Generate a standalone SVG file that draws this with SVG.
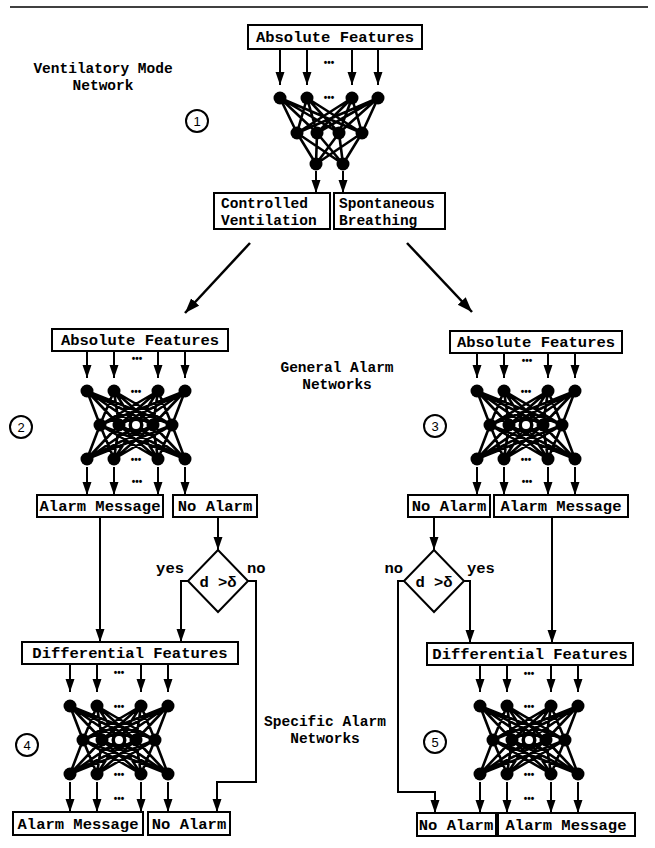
<svg xmlns="http://www.w3.org/2000/svg" xmlns:xlink="http://www.w3.org/1999/xlink" width="655" height="848" viewBox="0 0 655 848">
<style>
.lbl{font-family:"Liberation Mono","DejaVu Sans Mono",monospace;font-size:15.5px;font-weight:bold;fill:#000}
.ml{font-family:"Liberation Mono","DejaVu Sans Mono",monospace;font-size:14.5px;font-weight:bold;fill:#000}
.dots{font-family:"Liberation Sans",sans-serif;font-size:10px;font-weight:bold;fill:#000}
.num{font-family:"Liberation Sans",sans-serif;font-size:13px;fill:#000}
.box{fill:#fff;stroke:#000;stroke-width:2}
.arr{fill:none;stroke:#000;stroke-width:2;marker-end:url(#ah)}
.big{fill:none;stroke:#000;stroke-width:2.5;marker-end:url(#ahb)}
.edge{fill:none;stroke:#000;stroke-width:2.6}
.circ{fill:#fff;stroke:#000;stroke-width:2}
</style>
<defs>
<marker id="ah" markerUnits="userSpaceOnUse" markerWidth="14" markerHeight="10" refX="13" refY="4.5" orient="auto"><path d="M0,0 L13,4.5 L0,9 z" fill="#000"/></marker>
<marker id="ahb" markerUnits="userSpaceOnUse" markerWidth="16" markerHeight="12" refX="15" refY="5.5" orient="auto"><path d="M0,0 L15,5.5 L0,11 z" fill="#000"/></marker>
<g id="net">
<path class="edge" d="M-49,-34L-36,0M-49,-34L-17,0M-49,-34L0,0M-49,-34L17,0M-49,-34L36,0
M-22,-34L-36,0M-22,-34L-17,0M-22,-34L0,0M-22,-34L17,0M-22,-34L36,0
M22,-34L-36,0M22,-34L-17,0M22,-34L0,0M22,-34L17,0M22,-34L36,0
M49,-34L-36,0M49,-34L-17,0M49,-34L0,0M49,-34L17,0M49,-34L36,0
M-49,34L-36,0M-49,34L-17,0M-49,34L0,0M-49,34L17,0M-49,34L36,0
M-22,34L-36,0M-22,34L-17,0M-22,34L0,0M-22,34L17,0M-22,34L36,0
M22,34L-36,0M22,34L-17,0M22,34L0,0M22,34L17,0M22,34L36,0
M49,34L-36,0M49,34L-17,0M49,34L0,0M49,34L17,0M49,34L36,0"/>
<g fill="#000">
<circle cx="-49" cy="-34" r="6.5"/><circle cx="-22" cy="-34" r="6.5"/><circle cx="22" cy="-34" r="6.5"/><circle cx="49" cy="-34" r="6.5"/>
<circle cx="-36" cy="0" r="6.5"/><circle cx="-17" cy="0" r="6.5"/><circle cx="17" cy="0" r="6.5"/><circle cx="36" cy="0" r="6.5"/>
<circle cx="-49" cy="34" r="6.5"/><circle cx="-22" cy="34" r="6.5"/><circle cx="22" cy="34" r="6.5"/><circle cx="49" cy="34" r="6.5"/>
</g>
<circle cx="0" cy="0" r="7.5" fill="#000"/>
<circle cx="0" cy="0" r="4" fill="#fff"/>
<text class="dots" x="0" y="-30.5" text-anchor="middle">•••</text>
<text class="dots" x="0" y="37.5" text-anchor="middle">•••</text>
</g>
</defs>

<line x1="10" y1="7" x2="648" y2="7" stroke="#000" stroke-width="1.5"/>

<text class="ml" x="103" y="73" text-anchor="middle">Ventilatory Mode</text>
<text class="ml" x="103" y="90" text-anchor="middle">Network</text>
<text class="ml" x="337" y="372" text-anchor="middle">General Alarm</text>
<text class="ml" x="337" y="389" text-anchor="middle">Networks</text>
<text class="ml" x="325" y="726" text-anchor="middle">Specific Alarm</text>
<text class="ml" x="325" y="743" text-anchor="middle">Networks</text>

<!-- Network 1 -->
<g id="net1">
<rect class="box" x="248" y="25" width="174" height="24"/>
<text class="lbl" x="335" y="42" text-anchor="middle">Absolute Features</text>
<path class="edge" d="M280,98L297,133M280,98L317,133M280,98L339,133M280,98L362,133
M307,98L297,133M307,98L317,133M307,98L339,133M307,98L362,133
M352,98L297,133M352,98L317,133M352,98L339,133M352,98L362,133
M378,98L297,133M378,98L317,133M378,98L339,133M378,98L362,133
M297,133L316,164M317,133L316,164M339,133L316,164M362,133L316,164
M297,133L343,164M317,133L343,164M339,133L343,164M362,133L343,164"/>
<g fill="#000">
<circle cx="280" cy="98" r="6.5"/><circle cx="307" cy="98" r="6.5"/><circle cx="352" cy="98" r="6.5"/><circle cx="378" cy="98" r="6.5"/>
<circle cx="297" cy="133" r="6.5"/><circle cx="317" cy="133" r="6.5"/><circle cx="339" cy="133" r="6.5"/><circle cx="362" cy="133" r="6.5"/>
<circle cx="316" cy="164" r="6.5"/><circle cx="343" cy="164" r="6.5"/>
</g>
<text class="dots" x="329" y="65.5" text-anchor="middle">•••</text>
<text class="dots" x="329" y="100.5" text-anchor="middle">•••</text>
<circle class="circ" cx="197" cy="121" r="11"/>
<text class="num" x="197" y="126" text-anchor="middle">1</text>
</g>
<g id="cv">
<rect class="box" x="214" y="193" width="116" height="36"/>
<text class="ml" x="221" y="208">Controlled</text>
<text class="ml" x="221" y="225">Ventilation</text>
</g>
<g id="sb">
<rect class="box" x="334" y="193" width="111" height="36"/>
<text class="ml" x="339" y="208">Spontaneous</text>
<text class="ml" x="339" y="225">Breathing</text>
</g>

<!-- Network 2 -->
<g id="net2">
<rect class="box" x="52" y="329" width="176" height="22"/>
<text class="lbl" x="140" y="345" text-anchor="middle">Absolute Features</text>
<use xlink:href="#net" x="136" y="425"/>
<text class="dots" x="137" y="361.5" text-anchor="middle">•••</text>
<text class="dots" x="137" y="484.5" text-anchor="middle">•••</text>
<circle class="circ" cx="21" cy="427" r="11"/>
<text class="num" x="21" y="432" text-anchor="middle">2</text>
</g>
<g id="am2"><rect class="box" x="37" y="495" width="126" height="22"/><text class="lbl" x="100" y="511" text-anchor="middle">Alarm Message</text></g>
<g id="na2"><rect class="box" x="173" y="495" width="84" height="22"/><text class="lbl" x="215" y="511" text-anchor="middle">No Alarm</text></g>

<!-- Network 3 -->
<g id="net3">
<rect class="box" x="450" y="331" width="172" height="22"/>
<text class="lbl" x="536" y="347" text-anchor="middle">Absolute Features</text>
<use xlink:href="#net" x="526" y="425"/>
<text class="dots" x="527" y="363.5" text-anchor="middle">•••</text>
<text class="dots" x="527" y="484.5" text-anchor="middle">•••</text>
<circle class="circ" cx="435" cy="426" r="11"/>
<text class="num" x="435" y="431" text-anchor="middle">3</text>
</g>
<g id="na3"><rect class="box" x="408" y="495" width="82" height="22"/><text class="lbl" x="449" y="511" text-anchor="middle">No Alarm</text></g>
<g id="am3"><rect class="box" x="494" y="495" width="134" height="22"/><text class="lbl" x="561" y="511" text-anchor="middle">Alarm Message</text></g>

<!-- Decisions -->
<g id="dec1">
<path class="box" d="M218,550 L248,581 L218,612 L188,581 Z"/>
<text class="lbl" x="218" y="587" text-anchor="middle">d &gt;δ</text>
</g>
<g id="dec2">
<path class="box" d="M434,550 L464,581 L434,612 L404,581 Z"/>
<text class="lbl" x="434" y="587" text-anchor="middle">d &gt;δ</text>
</g>
<text class="lbl" x="184" y="573" text-anchor="end">yes</text>
<text class="lbl" x="247" y="573">no</text>
<text class="lbl" x="403" y="573" text-anchor="end">no</text>
<text class="lbl" x="467" y="573">yes</text>

<!-- Network 4 -->
<g id="net4">
<rect class="box" x="22" y="642" width="216" height="22"/>
<text class="lbl" x="130" y="658" text-anchor="middle">Differential Features</text>
<use xlink:href="#net" x="119" y="740"/>
<text class="dots" x="119" y="675.5" text-anchor="middle">•••</text>
<text class="dots" x="119" y="801.5" text-anchor="middle">•••</text>
<circle class="circ" cx="27" cy="745" r="11"/>
<text class="num" x="27" y="750" text-anchor="middle">4</text>
</g>
<g id="am4"><rect class="box" x="13" y="812" width="130" height="23"/><text class="lbl" x="78" y="829" text-anchor="middle">Alarm Message</text></g>
<g id="na4"><rect class="box" x="148" y="812" width="82" height="23"/><text class="lbl" x="189" y="829" text-anchor="middle">No Alarm</text></g>

<!-- Network 5 -->
<g id="net5">
<rect class="box" x="427" y="643" width="206" height="22"/>
<text class="lbl" x="530" y="659" text-anchor="middle">Differential Features</text>
<use xlink:href="#net" x="529" y="740"/>
<text class="dots" x="529" y="676.5" text-anchor="middle">•••</text>
<text class="dots" x="529" y="801.5" text-anchor="middle">•••</text>
<circle class="circ" cx="435" cy="742" r="11"/>
<text class="num" x="435" y="747" text-anchor="middle">5</text>
</g>
<g id="na5"><rect class="box" x="417" y="813" width="79" height="23"/><text class="lbl" x="456" y="830" text-anchor="middle">No Alarm</text></g>
<g id="am5"><rect class="box" x="498" y="813" width="137" height="23"/><text class="lbl" x="566" y="830" text-anchor="middle">Alarm Message</text></g>

<!-- Connectors -->
<g id="connectors">
<path class="arr" d="M280,49V85"/><path class="arr" d="M307,49V85"/><path class="arr" d="M352,49V85"/><path class="arr" d="M378,49V85"/>
<path class="arr" d="M316,171V193"/><path class="arr" d="M343,171V193"/>
<path class="big" d="M250,243L185,313"/>
<path class="big" d="M407,243L472,312"/>
<path class="arr" d="M87,351V378"/><path class="arr" d="M114,351V378"/><path class="arr" d="M158,351V378"/><path class="arr" d="M185,351V378"/>
<path class="arr" d="M87,467V495"/><path class="arr" d="M114,467V495"/><path class="arr" d="M158,467V495"/><path class="arr" d="M185,467V495"/>
<path class="arr" d="M477,353V378"/><path class="arr" d="M504,353V378"/><path class="arr" d="M548,353V378"/><path class="arr" d="M575,353V378"/>
<path class="arr" d="M477,467V495"/><path class="arr" d="M504,467V495"/><path class="arr" d="M548,467V495"/><path class="arr" d="M575,467V495"/>
<path class="arr" d="M218,517V550"/>
<path class="arr" d="M434,517V550"/>
<path class="arr" d="M100,517V642"/>
<path class="arr" d="M552,517V643"/>
<path class="arr" d="M188,581H181V642"/>
<path class="arr" d="M248,581H256V782H217V812"/>
<path class="arr" d="M464,581H470V643"/>
<path class="arr" d="M404,581H398V792H435V813"/>
<path class="arr" d="M70,664V692"/><path class="arr" d="M97,664V692"/><path class="arr" d="M141,664V692"/><path class="arr" d="M168,664V692"/>
<path class="arr" d="M70,782V812"/><path class="arr" d="M97,782V812"/><path class="arr" d="M141,782V812"/><path class="arr" d="M168,782V812"/>
<path class="arr" d="M480,665V692"/><path class="arr" d="M507,665V692"/><path class="arr" d="M551,665V692"/><path class="arr" d="M578,665V692"/>
<path class="arr" d="M480,782V813"/><path class="arr" d="M507,782V813"/><path class="arr" d="M551,782V813"/><path class="arr" d="M578,782V813"/>
</g>
</svg>
